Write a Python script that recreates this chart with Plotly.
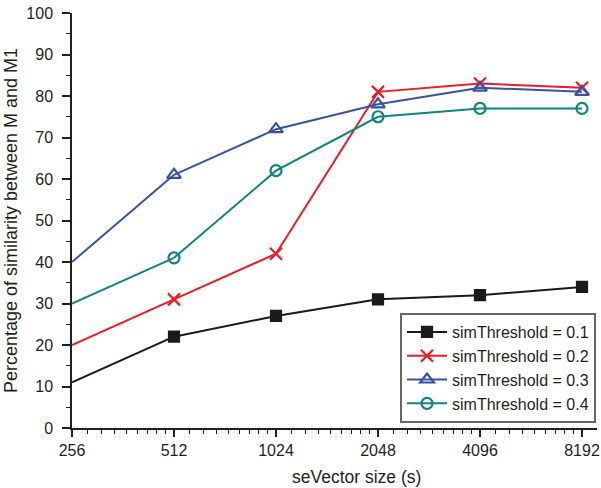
import math
import plotly.graph_objects as go

sizes = [256, 512, 1024, 2048, 4096, 8192]
tick_labels = ["256", "512", "1024", "2048", "4096", "8192"]
names = ["simThreshold = 0.1", "simThreshold = 0.2", "simThreshold = 0.3", "simThreshold = 0.4"]
s01 = [11, 22, 27, 31, 32, 34]
s02 = [20, 31, 42, 81, 83, 82]
s03 = [40, 61, 72, 78, 82, 81]
s04 = [30, 41, 62, 75, 77, 77]

series = [s01, s02, s03, s04]
colors = ["#1a1a1a", "#ED1C24", "#3953A4", "#10847E"]
symbols = ["square", "x-thin-open", "triangle-up-open", "circle-open"]
msizes = [10, 12, 12, 11]

fig = go.Figure()
for name, ys, c, sym, ms in zip(names, series, colors, symbols, msizes):
    fig.add_trace(go.Scatter(x=sizes[:2], y=ys[:2], mode="lines",
                             line=dict(color=c, width=2), showlegend=False,
                             hoverinfo="skip"))
    fig.add_trace(go.Scatter(x=sizes[1:], y=ys[1:], mode="lines+markers", name=name,
                             line=dict(color=c, width=2),
                             marker=dict(symbol=sym, size=ms, color=c,
                                         line=dict(color=c, width=2.2))))

minor_vals = []
for v in sizes[:-1]:
    minor_vals += [v * (1 + k / 9) for k in range(1, 9)]

x_end = 2 ** 13.147
font = "Liberation Sans, Arial, sans-serif"
ink = "#231f20"
fig.update_layout(
    width=601, height=488,
    margin=dict(l=72, r=4, t=13, b=60, autoexpand=False),
    paper_bgcolor="white", plot_bgcolor="white",
    font=dict(family=font, size=16, color=ink),
    xaxis=dict(type="log", range=[math.log10(256), math.log10(x_end)],
               tickvals=sizes, ticktext=tick_labels, ticks="outside", ticklen=7,
               tickwidth=1.5, tickcolor=ink, showline=True, linecolor=ink,
               linewidth=1.5, showgrid=False, zeroline=False, automargin=False,
               tickfont=dict(size=16), ticklabelstandoff=0,
               ticklabeloverflow="allow",
               minor=dict(tickvals=minor_vals, ticks="outside", ticklen=4,
                          tickwidth=1.2, tickcolor=ink, showgrid=False)),
    yaxis=dict(range=[0, 100], tickvals=list(range(0, 101, 10)), ticks="outside",
               ticklen=8, tickwidth=1.5, tickcolor=ink, showline=True,
               linecolor=ink, linewidth=1.5, showgrid=False, zeroline=False,
               automargin=False,
               tickfont=dict(size=16), ticklabelstandoff=6,
               ticklabeloverflow="allow",
               minor=dict(dtick=5, ticks="outside", ticklen=4, tickwidth=1.2,
                          tickcolor=ink, showgrid=False),
               title=dict(text="Percentage of similarity between M and M1",
                          font=dict(size=18), standoff=4)),
    legend=dict(x=0.6248, y=0.012, xanchor="left", yanchor="bottom",
                bgcolor="white", bordercolor="#666666", borderwidth=2,
                font=dict(size=16, color=ink), itemwidth=40,
                tracegroupgap=0),
    annotations=[dict(text="seVector size (s)", xref="paper", yref="paper",
                      x=0.541, y=-0.118, xanchor="center", yanchor="middle",
                      showarrow=False, font=dict(size=17.5, color=ink))],
)
# remove the default 8px page margin so the 601x488 figure fills the window exactly
fig.write_html("out.html", config={"displayModeBar": False},
               post_script="document.body.style.margin='0';document.body.style.overflow='hidden';")
